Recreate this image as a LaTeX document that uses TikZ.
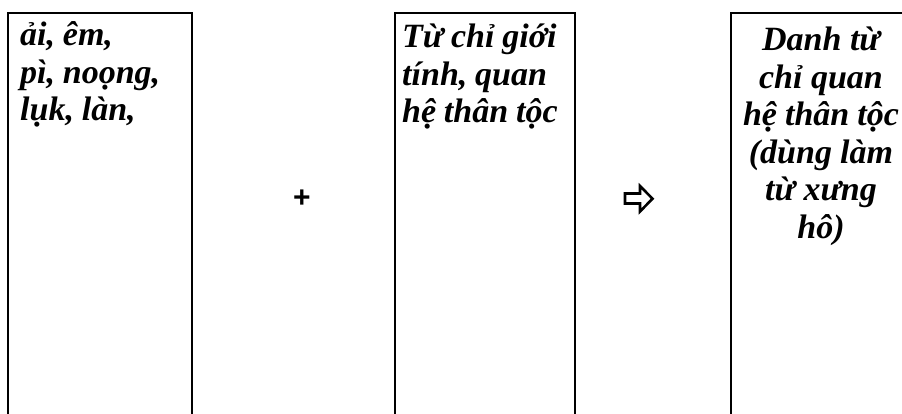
\documentclass[tikz,border=0pt]{standalone}
\usepackage{fontspec}
\setmainfont{Liberation Serif}
\newfontfamily\plusfont{Liberation Sans}
\newcommand\tightspaces{\spaceskip=0.23em plus 0.05em\relax}
\begin{document}
\begin{tikzpicture}[x=1pt,y=-1pt,
  frame/.style={line width=2pt, line join=miter},
  boxtext/.style={inner sep=0pt, font=\fontsize{34}{37.5}\selectfont\bfseries\itshape,
    execute at begin node=\tightspaces},
]
\useasboundingbox (0,0) rectangle (902,414);
\clip (0,0) rectangle (902,414);
% open-bottom boxes
\draw[frame] (8,420) -- (8,13) -- (192,13) -- (192,420);
\draw[frame] (395,420) -- (395,13) -- (575,13) -- (575,420);
\draw[frame] (731,420) -- (731,13) -- (910,13) -- (910,420);
% texts
\node[boxtext, anchor=base west, text width=170pt, align=left] (t1) at (20,46)
  {ải, êm,\\pì, noọng,\\lụk, làn,};
\node[boxtext, anchor=base west, text width=170pt, align=left] (t2) at (402,48)
  {Từ chỉ giới\\tính, quan\\hệ thân tộc};
\node[boxtext, anchor=base, text width=175pt, align=center] (t3) at (821,51)
  {Danh từ\\chỉ quan\\hệ thân tộc\\(dùng làm\\từ xưng\\hô)};
% plus
\node[inner sep=0pt, font=\plusfont\bfseries\fontsize{30}{30}\selectfont] (plus) at (302,199) {+};
% white right arrow
\draw[line width=2.6pt, line join=miter] (625,193.5) -- (640,193.5) -- (640,186) -- (652.5,198.7)
  -- (640,211.5) -- (640,203.5) -- (625,203.5) -- cycle;
\coordinate (arr) at (638,198.7);
\end{tikzpicture}
\end{document}
